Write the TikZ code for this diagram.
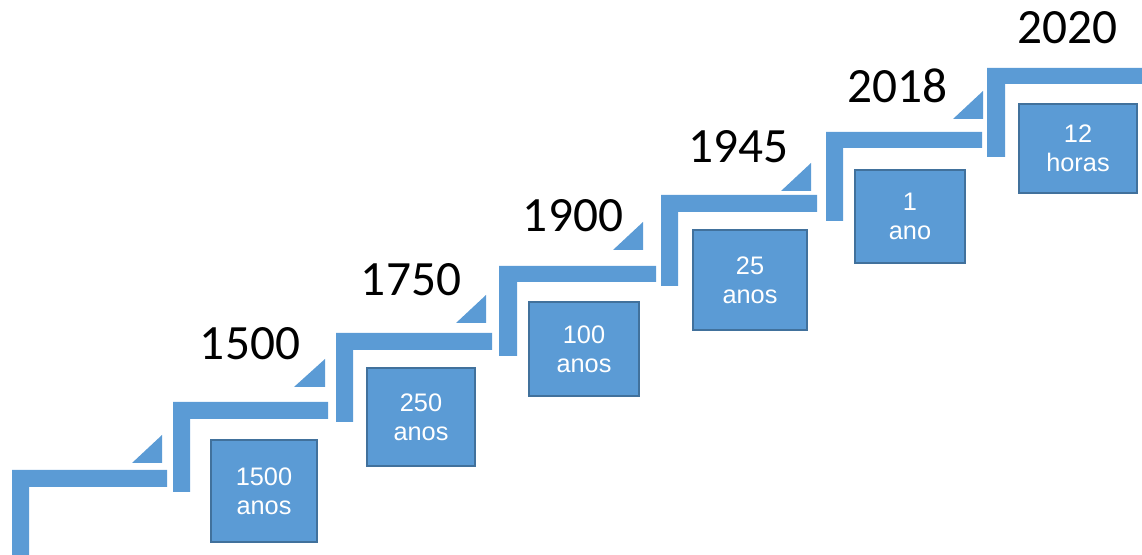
\documentclass[tikz,border=0pt]{standalone}
\usepackage{fontspec}
\setmainfont{Carlito}
\newfontfamily\boxfont{Liberation Sans}
\definecolor{stepblue}{RGB}{91,155,213}
\definecolor{stepedge}{RGB}{65,113,156}

\begin{document}
\begin{tikzpicture}[x=0.75pt,y=-0.75pt,
  stepbar/.style={fill=stepblue},
  steptip/.style={fill=stepblue},
  yearlabel/.style={anchor=base,inner sep=0pt,font=\fontsize{37}{40}\selectfont},
  spanbox/.style={draw=stepedge,line width=1.5pt,fill=stepblue,text=white,
    align=center,inner sep=0pt,font=\boxfont\fontsize{19}{22}\selectfont}
]
  \useasboundingbox (0,0) rectangle (1142,555);

  % the seven steps
  \fill[stepbar] (12,470) -- (167,470) -- (167,487) -- (29,487) -- (29,555) -- (12,555) -- cycle;
  \fill[stepbar] (173,402) -- (328,402) -- (328,419) -- (190,419) -- (190,492) -- (173,492) -- cycle;
  \fill[stepbar] (336,333) -- (492,333) -- (492,350) -- (353,350) -- (353,422) -- (336,422) -- cycle;
  \fill[stepbar] (499,266) -- (656,266) -- (656,282) -- (517,282) -- (517,356) -- (499,356) -- cycle;
  \fill[stepbar] (661,195) -- (817,195) -- (817,212) -- (678,212) -- (678,286) -- (661,286) -- cycle;
  \fill[stepbar] (826,132) -- (982,132) -- (982,148) -- (843,148) -- (843,221) -- (826,221) -- cycle;
  \fill[stepbar] (987,68) -- (1142,68) -- (1142,84) -- (1005,84) -- (1005,157) -- (987,157) -- cycle;

  % small wedges under each landing
  \fill[steptip] (132,463) -- (162,435) -- (162,463) -- cycle;
  \fill[steptip] (294,387) -- (325,359) -- (325,387) -- cycle;
  \fill[steptip] (456,323) -- (486,295) -- (486,323) -- cycle;
  \fill[steptip] (613,250) -- (643,222) -- (643,250) -- cycle;
  \fill[steptip] (781,191) -- (811,163) -- (811,191) -- cycle;
  \fill[steptip] (953,119) -- (983,91) -- (983,119) -- cycle;

  \node[yearlabel] (y1500) at (250,360) {1500};
  \node[yearlabel] (y1750) at (411,296) {1750};
  \node[yearlabel] (y1900) at (573,232) {1900};
  \node[yearlabel] (y1945) at (738,163) {1945};
  \node[yearlabel] (y2018) at (897,103) {2018};
  \node[yearlabel] (y2020) at (1067,44) {2020};

  \node[spanbox,minimum width=79.5pt,minimum height=76.5pt] (span1) at (264,491) {1500\\anos};
  \node[spanbox,minimum width=81pt,minimum height=73.5pt] (span2) at (421,417) {250\\anos};
  \node[spanbox,minimum width=82.5pt,minimum height=70.5pt] (span3) at (584,349) {100\\anos};
  \node[spanbox,minimum width=85.5pt,minimum height=75pt] (span4) at (750,280) {25\\anos};
  \node[spanbox,minimum width=82.5pt,minimum height=69.75pt] (span5) at (910,216.5) {1\\ano};
  \node[spanbox,minimum width=88.5pt,minimum height=66.75pt] (span6) at (1078,148.5) {12\\horas};
\end{tikzpicture}
\end{document}
